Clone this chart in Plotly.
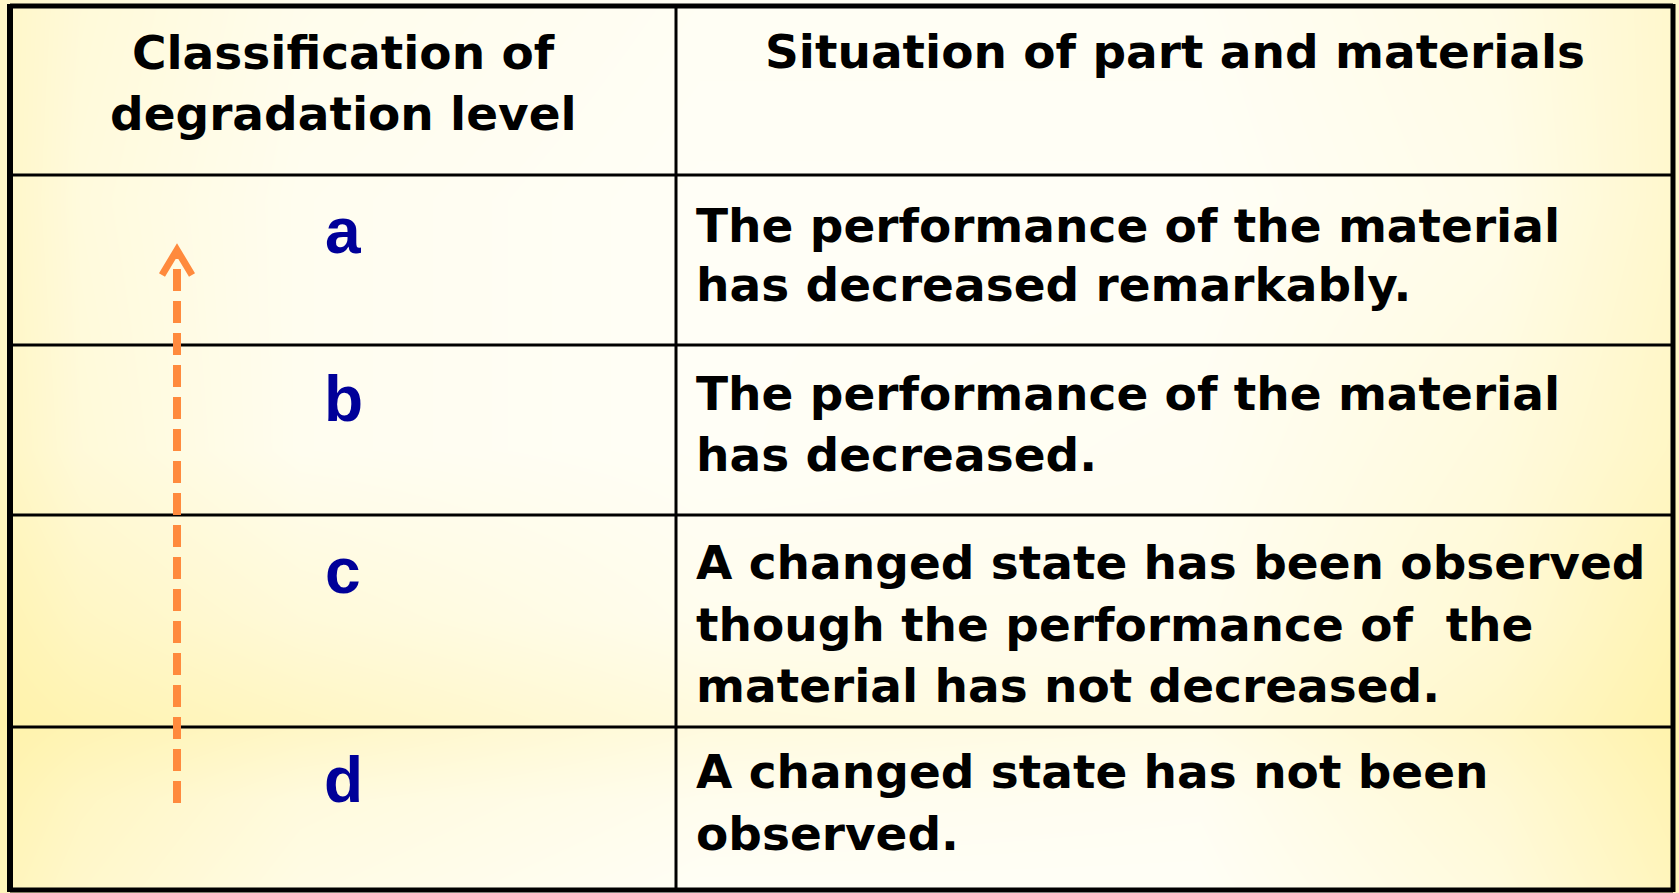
import plotly.graph_objects as go

W, H = 1679, 893

# ---- table content ----
header_left = ["Classification of", "degradation level"]
header_right = ["Situation of part and materials"]
levels = ["a", "b", "c", "d"]
situations = [
    ["The performance of the material", "has decreased remarkably."],
    ["The performance of the material", "has decreased."],
    ["A changed state has been observed", "though the performance of  the", "material has not decreased."],
    ["A changed state has not been", "observed."],
]

# ---- layout geometry (pixel coordinates) ----
x_left, x_mid, x_right = 10, 676, 1673
y_top, y_bottom = 6, 890
row_lines = [175, 345, 515, 727]
header_left_y = [52, 113]
header_right_y = [51]
level_y = [231, 399, 571, 780]
situation_y = [[225, 284], [393, 454], [562, 624, 685], [771, 833]]
level_x = 343
text_x = 694

# ---- background gradient (intensity of yellow) ----
bg_x = [0, 80, 300, 700, 1200, 1500, 1679]
bg_y = [0, 200, 450, 620, 720, 800, 893]
bg_z = [
    [0.55, 0.35, 0.12, 0.03, 0.03, 0.20, 0.50],
    [0.55, 0.30, 0.08, 0.00, 0.00, 0.15, 0.50],
    [0.60, 0.35, 0.08, 0.00, 0.05, 0.30, 0.60],
    [0.80, 0.60, 0.35, 0.10, 0.10, 0.40, 0.80],
    [0.90, 0.80, 0.60, 0.30, 0.20, 0.55, 0.90],
    [0.80, 0.60, 0.30, 0.10, 0.05, 0.40, 0.80],
    [0.70, 0.50, 0.20, 0.00, 0.00, 0.30, 0.70],
]

fig = go.Figure()
fig.add_trace(go.Heatmap(
    x=bg_x, y=bg_y, z=bg_z, zsmooth="best", zmin=0, zmax=1,
    colorscale=[[0, "#FFFEF6"], [1, "#FFF1A2"]],
    showscale=False, hoverinfo="skip",
))

shapes = []
border = dict(color="#000000", width=5)
inner = dict(color="#000000", width=3)
shapes.append(dict(type="line", x0=x_left, x1=x_right, y0=y_top, y1=y_top, line=border))
shapes.append(dict(type="line", x0=x_left, x1=x_right, y0=y_bottom, y1=y_bottom, line=border))
shapes.append(dict(type="line", x0=x_left, x1=x_left, y0=y_top - 2, y1=y_bottom + 2, line=dict(color="#000000", width=6)))
shapes.append(dict(type="line", x0=x_right, x1=x_right, y0=y_top - 2, y1=y_bottom + 2, line=border))
shapes.append(dict(type="line", x0=x_mid, x1=x_mid, y0=y_top, y1=y_bottom, line=inner))
for ry in row_lines:
    shapes.append(dict(type="line", x0=x_left, x1=x_right, y0=ry, y1=ry, line=inner))

# arrow (dashed shaft + open head)
arrow_color = "#FF8A3D"
shapes.append(dict(type="line", x0=177, x1=177, y0=803, y1=256,
                   line=dict(color=arrow_color, width=8, dash="22px,10px")))
shapes.append(dict(type="path", path="M 162 275 L 177 250 L 192 275",
                   line=dict(color=arrow_color, width=7)))

annotations = []
hfont = dict(family="DejaVu Sans", size=47, color="#000000", weight="bold")
for txt, yy in zip(header_left, header_left_y):
    annotations.append(dict(x=level_x, y=yy, text=txt, showarrow=False,
                            xanchor="center", yanchor="middle", font=hfont))
for txt, yy in zip(header_right, header_right_y):
    annotations.append(dict(x=(x_mid + x_right) / 2, y=yy, text=txt, showarrow=False,
                            xanchor="center", yanchor="middle", font=hfont))
lfont = dict(family="Liberation Sans", size=64, color="#000099", weight="bold")
for lv, yy in zip(levels, level_y):
    annotations.append(dict(x=level_x, y=yy, text=lv, showarrow=False,
                            xanchor="center", yanchor="middle", font=lfont))
for lines, ys in zip(situations, situation_y):
    for txt, yy in zip(lines, ys):
        annotations.append(dict(x=text_x, y=yy, text=txt.replace("  ", "&nbsp; "), showarrow=False,
                                xanchor="left", yanchor="middle", font=hfont))

fig.update_layout(
    width=W, height=H,
    margin=dict(l=0, r=0, t=0, b=0),
    paper_bgcolor="#FFF8D0", plot_bgcolor="#FFF8D0",
    xaxis=dict(range=[0, W], visible=False, fixedrange=True),
    yaxis=dict(range=[H, 0], visible=False, fixedrange=True),
    shapes=shapes, annotations=annotations, showlegend=False,
)
fig.write_html(
    "out.html",
    config={"displayModeBar": False},
    post_script="document.body.style.margin='0px';document.body.style.overflow='hidden';",
)
